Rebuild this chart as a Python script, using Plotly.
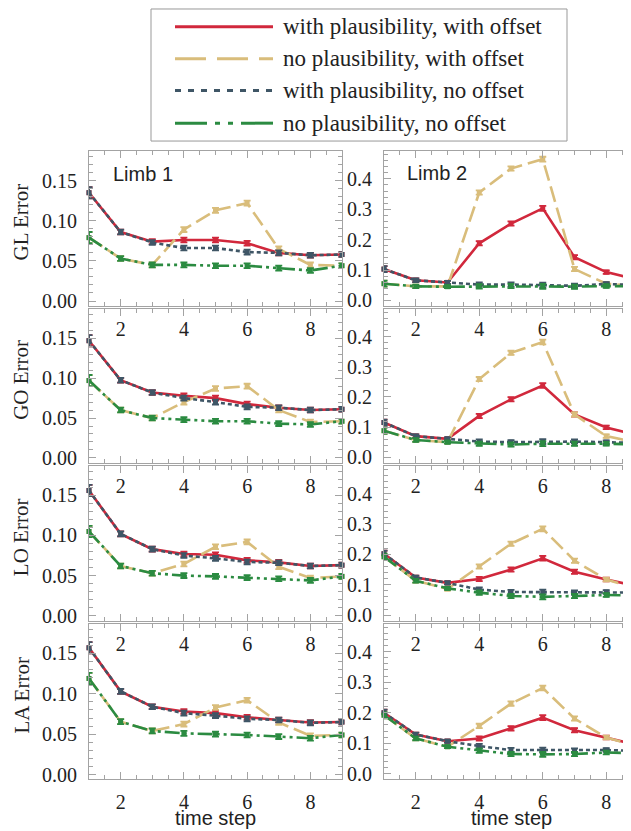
import plotly.graph_objects as go

W, H = 631, 831

time_steps = [1, 2, 3, 4, 5, 6, 7, 8, 9]
x_ticks = [2, 4, 6, 8]
row_names = ["GL", "GO", "LO", "LA"]
limb_names = ["Limb 1", "Limb 2"]

series_names = [
    "with plausibility, with offset",
    "no plausibility, with offset",
    "with plausibility, no offset",
    "no plausibility, no offset",
]

# ---- values: [row][limb] -> series ----
GL_limb1_wp_wo = [0.135, 0.086, 0.074, 0.076, 0.076, 0.072, 0.060, 0.057, 0.058]
GL_limb1_np_wo = [0.079, 0.053, 0.045, 0.089, 0.113, 0.122, 0.065, 0.045, 0.044]
GL_limb1_wp_no = [0.135, 0.086, 0.073, 0.066, 0.066, 0.061, 0.060, 0.057, 0.058]
GL_limb1_np_no = [0.079, 0.053, 0.045, 0.045, 0.044, 0.044, 0.041, 0.038, 0.044]

GL_limb2_wp_wo = [0.103, 0.066, 0.059, 0.188, 0.253, 0.303, 0.142, 0.093, 0.068]
GL_limb2_np_wo = [0.055, 0.046, 0.046, 0.355, 0.434, 0.465, 0.103, 0.055, 0.046]
GL_limb2_wp_no = [0.103, 0.066, 0.059, 0.052, 0.052, 0.050, 0.048, 0.054, 0.050]
GL_limb2_np_no = [0.055, 0.046, 0.045, 0.046, 0.047, 0.046, 0.045, 0.047, 0.046]

GO_limb1_wp_wo = [0.147, 0.0975, 0.082, 0.078, 0.075, 0.0675, 0.063, 0.060, 0.061]
GO_limb1_np_wo = [0.097, 0.060, 0.050, 0.070, 0.087, 0.090, 0.060, 0.045, 0.046]
GO_limb1_wp_no = [0.147, 0.0975, 0.082, 0.075, 0.070, 0.064, 0.063, 0.060, 0.061]
GO_limb1_np_no = [0.097, 0.060, 0.050, 0.048, 0.046, 0.046, 0.043, 0.042, 0.046]

GO_limb2_wp_wo = [0.115, 0.070, 0.061, 0.137, 0.192, 0.238, 0.142, 0.099, 0.072]
GO_limb2_np_wo = [0.088, 0.057, 0.050, 0.259, 0.346, 0.382, 0.142, 0.070, 0.048]
GO_limb2_wp_no = [0.115, 0.070, 0.061, 0.052, 0.050, 0.052, 0.052, 0.050, 0.047]
GO_limb2_np_no = [0.088, 0.057, 0.050, 0.045, 0.042, 0.045, 0.045, 0.045, 0.042]

LO_limb1_wp_wo = [0.156, 0.102, 0.083, 0.077, 0.076, 0.069, 0.0665, 0.062, 0.063]
LO_limb1_np_wo = [0.105, 0.062, 0.053, 0.0645, 0.086, 0.092, 0.061, 0.047, 0.049]
LO_limb1_wp_no = [0.156, 0.102, 0.083, 0.075, 0.0715, 0.067, 0.066, 0.062, 0.063]
LO_limb1_np_no = [0.105, 0.062, 0.053, 0.050, 0.049, 0.0475, 0.046, 0.044, 0.049]

LO_limb2_wp_wo = [0.202, 0.124, 0.106, 0.119, 0.150, 0.187, 0.143, 0.117, 0.095]
LO_limb2_np_wo = [0.192, 0.113, 0.086, 0.160, 0.235, 0.284, 0.179, 0.117, 0.086]
LO_limb2_wp_no = [0.202, 0.124, 0.106, 0.084, 0.076, 0.076, 0.074, 0.076, 0.074]
LO_limb2_np_no = [0.192, 0.113, 0.088, 0.074, 0.063, 0.060, 0.063, 0.066, 0.065]

LA_limb1_wp_wo = [0.157, 0.103, 0.084, 0.078, 0.076, 0.071, 0.0675, 0.0645, 0.065]
LA_limb1_np_wo = [0.119, 0.0655, 0.054, 0.0625, 0.083, 0.092, 0.0645, 0.048, 0.049]
LA_limb1_wp_no = [0.157, 0.103, 0.084, 0.076, 0.073, 0.069, 0.0675, 0.064, 0.065]
LA_limb1_np_no = [0.119, 0.0655, 0.054, 0.051, 0.050, 0.049, 0.047, 0.045, 0.049]

LA_limb2_wp_wo = [0.200, 0.129, 0.107, 0.116, 0.149, 0.184, 0.143, 0.119, 0.094]
LA_limb2_np_wo = [0.192, 0.116, 0.089, 0.157, 0.230, 0.281, 0.181, 0.119, 0.089]
LA_limb2_wp_no = [0.200, 0.129, 0.107, 0.091, 0.078, 0.078, 0.076, 0.078, 0.075]
LA_limb2_np_no = [0.192, 0.116, 0.089, 0.076, 0.065, 0.064, 0.065, 0.070, 0.067]

ERR_LIMB1 = [0.007, 0.003, 0.003, 0.003, 0.003, 0.003, 0.003, 0.003, 0.003]
ERR_LIMB2 = [0.010, 0.006, 0.005, 0.007, 0.007, 0.008, 0.007, 0.006, 0.005]

data = {
    ("GL", 0): [GL_limb1_wp_wo, GL_limb1_np_wo, GL_limb1_wp_no, GL_limb1_np_no],
    ("GL", 1): [GL_limb2_wp_wo, GL_limb2_np_wo, GL_limb2_wp_no, GL_limb2_np_no],
    ("GO", 0): [GO_limb1_wp_wo, GO_limb1_np_wo, GO_limb1_wp_no, GO_limb1_np_no],
    ("GO", 1): [GO_limb2_wp_wo, GO_limb2_np_wo, GO_limb2_wp_no, GO_limb2_np_no],
    ("LO", 0): [LO_limb1_wp_wo, LO_limb1_np_wo, LO_limb1_wp_no, LO_limb1_np_no],
    ("LO", 1): [LO_limb2_wp_wo, LO_limb2_np_wo, LO_limb2_wp_no, LO_limb2_np_no],
    ("LA", 0): [LA_limb1_wp_wo, LA_limb1_np_wo, LA_limb1_wp_no, LA_limb1_np_no],
    ("LA", 1): [LA_limb2_wp_wo, LA_limb2_np_wo, LA_limb2_wp_no, LA_limb2_np_no],
}
errs = [ERR_LIMB1, ERR_LIMB2]

# ---- styles ----
colors = ["#d1283c", "#d9bd7b", "#3f5666", "#2b8b41"]
dashes = ["solid", "16px,6px", "4px,3px", "15px,4px,3px,4px,3px,4px"]
legend_dashes = ["solid", "31px,11px", "6px,7px", "32px,8px,5px,8px,5px,8px"]
draw_order = [0, 1, 2, 3]

SERIF = "Liberation Serif"
SANS = "Liberation Sans"
FRAME = "#a3a3a3"


def px_x(p):
    return p / W


def px_y(p):
    return 1 - p / H


col_px = [(81, 334), (376, 630)]
row_px = [(144, 300), (303, 458), (461, 617), (620, 777)]
y_ranges = [[-0.006, 0.187], [-0.018, 0.492]]
y_dticks = [0.05, 0.1]
y_minor = [0.01, 0.02]
y_fmt = [".2f", ".1f"]

fig = go.Figure()
layout = {}
annotations = []
shapes = []

k = 0
for r, rname in enumerate(row_names):
    for c in range(2):
        k += 1
        xa = "xaxis" if k == 1 else f"xaxis{k}"
        ya = "yaxis" if k == 1 else f"yaxis{k}"
        xr = "x" if k == 1 else f"x{k}"
        yr = "y" if k == 1 else f"y{k}"
        layout[xa] = dict(
            domain=[px_x(col_px[c][0]), px_x(col_px[c][1])],
            anchor=yr, range=[1, 9], tickvals=x_ticks,
            ticks="inside", ticklen=7, tickcolor=FRAME, tickwidth=1,
            minor=dict(dtick=0.5, tick0=1, ticks="inside", ticklen=4, tickcolor=FRAME, tickwidth=1),
            showline=True, linecolor=FRAME, linewidth=1, mirror="ticks",
            showgrid=False, zeroline=False,
            tickfont=dict(family=SERIF, size=20, color="#222"),
            ticklabelstandoff=5,
        )
        layout[ya] = dict(
            domain=[px_y(row_px[r][1]), px_y(row_px[r][0])],
            anchor=xr, range=y_ranges[c], dtick=y_dticks[c], tick0=0,
            tickformat=y_fmt[c],
            ticks="inside", ticklen=7, tickcolor=FRAME, tickwidth=1,
            minor=dict(dtick=y_minor[c], tick0=0, ticks="inside", ticklen=4, tickcolor=FRAME, tickwidth=1),
            showline=True, linecolor=FRAME, linewidth=1, mirror="ticks",
            showgrid=False, zeroline=False,
            tickfont=dict(family=SERIF, size=20, color="#222"),
            ticklabelstandoff=7,
        )
        series = data[(rname, c)]
        for s in draw_order:
            fig.add_trace(go.Scatter(
                x=time_steps, y=series[s], xaxis=xr, yaxis=yr,
                mode="lines+markers", name=series_names[s], showlegend=False,
                line=dict(color=colors[s], width=2.6, dash=dashes[s]),
                marker=dict(symbol="square", size=5, color=colors[s]),
                error_y=dict(type="data", array=errs[c], color=colors[s], thickness=1.8, width=3.5),
                cliponaxis=False,
            ))
    annotations.append(dict(
        x=px_x(13), y=px_y((row_px[r][0] + row_px[r][1]) / 2 - 6), xref="paper", yref="paper",
        text=f"{rname} Error", textangle=-90, showarrow=False,
        font=dict(family=SERIF, size=21, color="#222"), xanchor="center", yanchor="middle",
    ))

# limb labels
annotations.append(dict(x=px_x(103), y=px_y(167), xref="paper", yref="paper", text=limb_names[0],
                        showarrow=False, xanchor="left", yanchor="middle",
                        font=dict(family=SANS, size=20, color="#222")))
annotations.append(dict(x=px_x(397), y=px_y(166), xref="paper", yref="paper", text=limb_names[1],
                        showarrow=False, xanchor="left", yanchor="middle",
                        font=dict(family=SANS, size=20, color="#222")))

# x axis titles
for c in range(2):
    annotations.append(dict(x=px_x((col_px[c][0] + col_px[c][1]) / 2), y=px_y(829), xref="paper", yref="paper",
                            text="time step", showarrow=False, xanchor="center", yanchor="bottom",
                            font=dict(family=SANS, size=20, color="#222")))

# manual legend
shapes.append(dict(type="rect", xref="paper", yref="paper",
                   x0=px_x(143), x1=px_x(559), y0=px_y(134), y1=px_y(1),
                   line=dict(color="#999999", width=1), fillcolor="white"))
leg_y = [19, 51, 83, 116]
for s in range(4):
    shapes.append(dict(type="line", xref="paper", yref="paper",
                       x0=px_x(167), x1=px_x(265), y0=px_y(leg_y[s]), y1=px_y(leg_y[s]),
                       line=dict(color=colors[s], width=3, dash=legend_dashes[s])))
    annotations.append(dict(x=px_x(273), y=px_y(leg_y[s]), xref="paper", yref="paper",
                            text=series_names[s], showarrow=False, xanchor="left", yanchor="middle",
                            font=dict(family=SERIF, size=23, color="#222")))

fig.update_layout(
    width=W, height=H, margin=dict(l=0, r=0, t=0, b=0),
    paper_bgcolor="white", plot_bgcolor="white",
    annotations=annotations, shapes=shapes, showlegend=False,
    **layout,
)

fig.write_html("out.html")
